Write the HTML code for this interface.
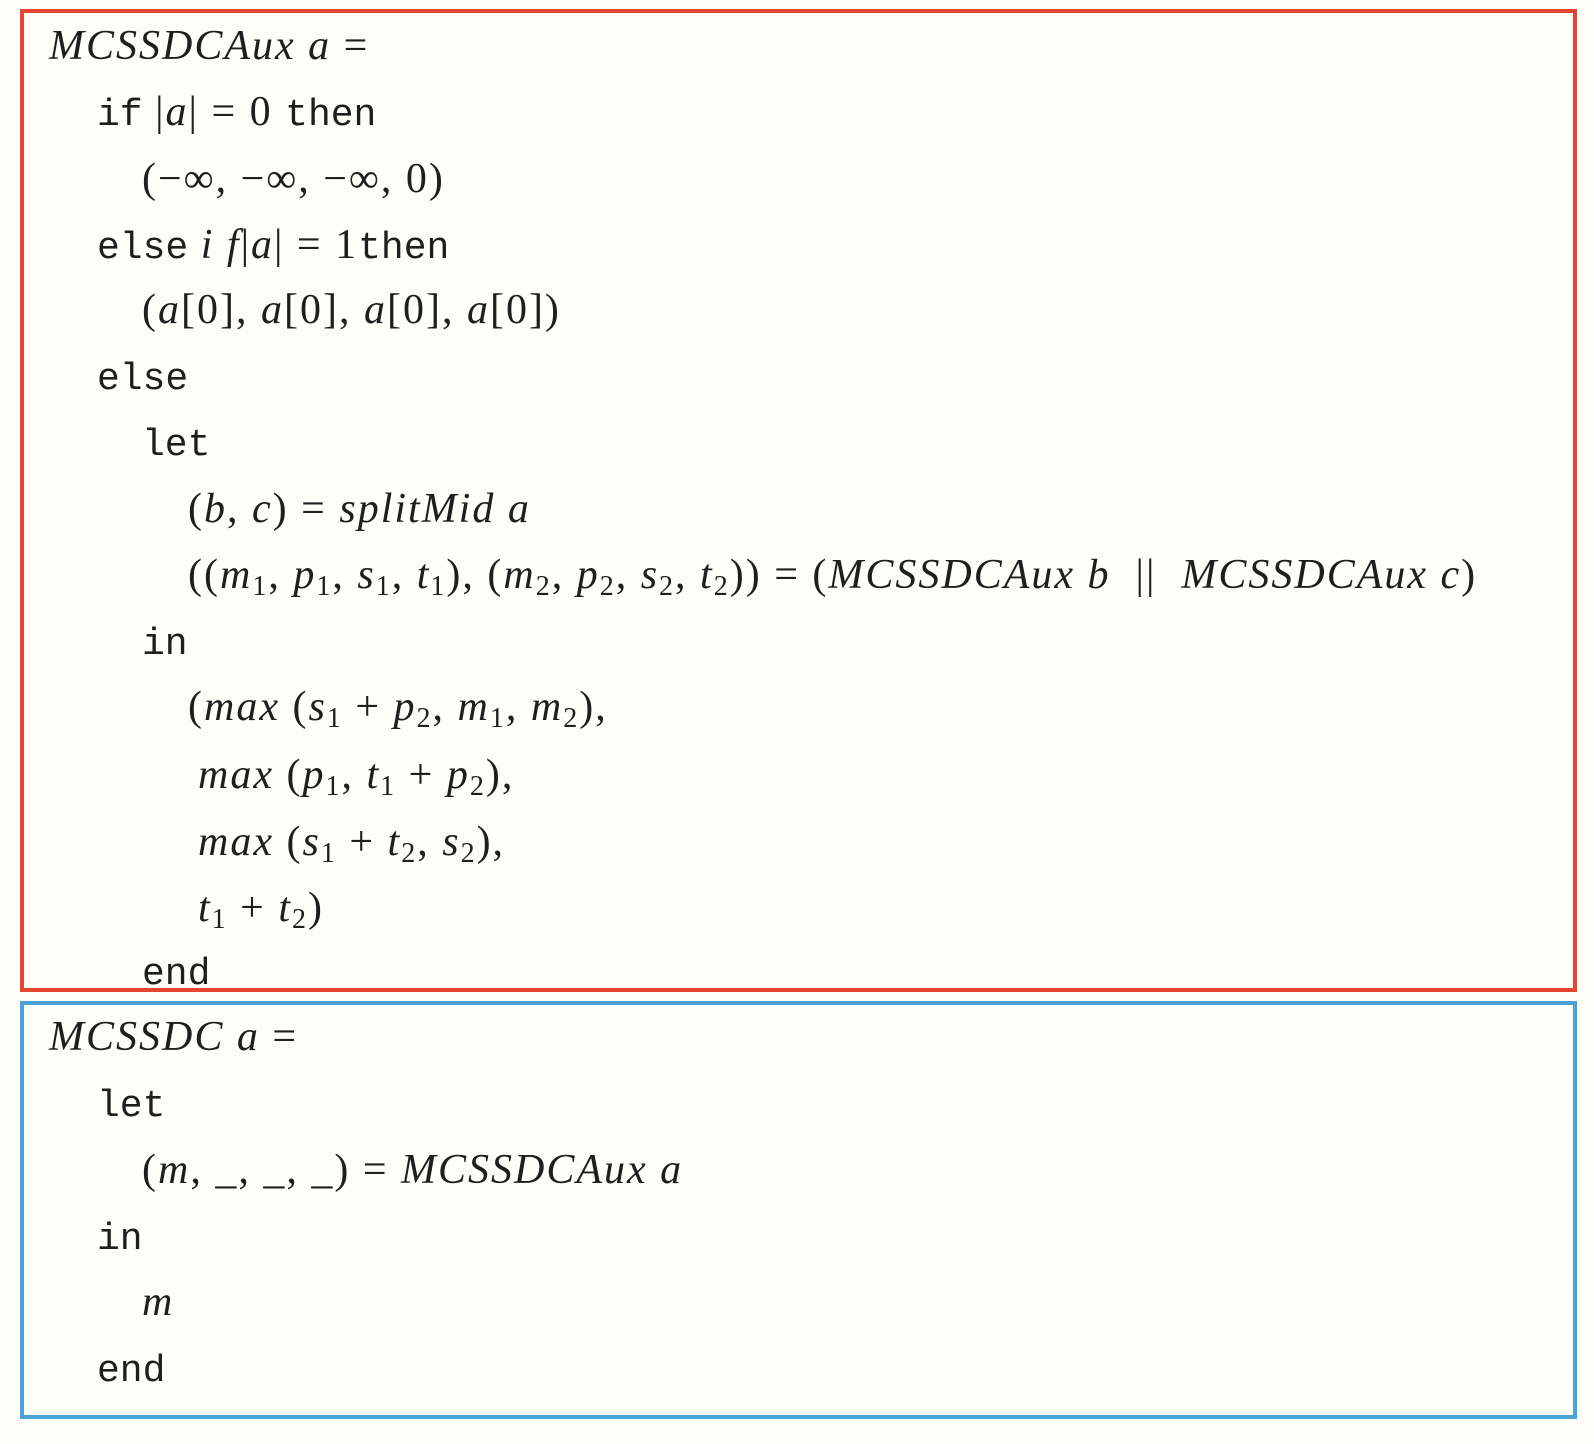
<!DOCTYPE html>
<html><head><meta charset="utf-8"><style>
html,body{margin:0;padding:0;}
body{width:1594px;height:1444px;background:#fefef9;position:relative;overflow:hidden;font-family:"Liberation Serif",serif;font-size:42px;letter-spacing:2px;color:#1e1e1e;}
.box{position:absolute;box-sizing:border-box;}
.l{position:absolute;white-space:nowrap;line-height:44px;height:44px;}
i{font-style:italic;}
.k{font-family:"Liberation Mono",monospace;font-size:38px;letter-spacing:0;}
sub{font-size:28px;vertical-align:-7px;line-height:0;}
</style></head><body>
<div class="box" style="left:20px;top:9px;width:1557px;height:983px;border:4px solid #e5452c;"></div>
<div class="box" style="left:20px;top:1001px;width:1557px;height:418px;border:4px solid #4aa3d6;"></div>

<div class="l" style="left:49px;top:24px"><i>MCSSDCAux a</i> =</div>
<div class="l" style="left:97px;top:90px"><span class="k">if</span> |<i>a</i>| = 0 <span class="k">then</span></div>
<div class="l" style="left:142px;top:157px">(−∞, −∞, −∞, 0)</div>
<div class="l" style="left:97px;top:223px"><span class="k">else</span> <i>i f</i>|<i>a</i>| = 1<span class="k">then</span></div>
<div class="l" style="left:142px;top:288px">(<i>a</i>[0], <i>a</i>[0], <i>a</i>[0], <i>a</i>[0])</div>
<div class="l" style="left:97px;top:354px"><span class="k">else</span></div>
<div class="l" style="left:142px;top:420px"><span class="k">let</span></div>
<div class="l" style="left:188px;top:487px">(<i>b</i>, <i>c</i>) = <i>splitMid a</i></div>
<div class="l" style="left:188px;top:553px">((<i>m</i><sub>1</sub>, <i>p</i><sub>1</sub>, <i>s</i><sub>1</sub>, <i>t</i><sub>1</sub>), (<i>m</i><sub>2</sub>, <i>p</i><sub>2</sub>, <i>s</i><sub>2</sub>, <i>t</i><sub>2</sub>)) = (<i>MCSSDCAux b</i> &nbsp;|| &nbsp;<i>MCSSDCAux c</i>)</div>
<div class="l" style="left:142px;top:619px"><span class="k">in</span></div>
<div class="l" style="left:188px;top:685px">(<i>max</i> (<i>s</i><sub>1</sub> + <i>p</i><sub>2</sub>, <i>m</i><sub>1</sub>, <i>m</i><sub>2</sub>),</div>
<div class="l" style="left:198px;top:753px"><i>max</i> (<i>p</i><sub>1</sub>, <i>t</i><sub>1</sub> + <i>p</i><sub>2</sub>),</div>
<div class="l" style="left:198px;top:820px"><i>max</i> (<i>s</i><sub>1</sub> + <i>t</i><sub>2</sub>, <i>s</i><sub>2</sub>),</div>
<div class="l" style="left:198px;top:886px"><i>t</i><sub>1</sub> + <i>t</i><sub>2</sub>)</div>
<div class="l" style="left:142px;top:949px"><span class="k">end</span></div>

<div class="l" style="left:49px;top:1015px"><i>MCSSDC a</i> =</div>
<div class="l" style="left:97px;top:1081px"><span class="k">let</span></div>
<div class="l" style="left:142px;top:1148px">(<i>m</i>, _, _, _) = <i>MCSSDCAux a</i></div>
<div class="l" style="left:97px;top:1214px"><span class="k">in</span></div>
<div class="l" style="left:142px;top:1280px"><i>m</i></div>
<div class="l" style="left:97px;top:1346px"><span class="k">end</span></div>
</body></html>
